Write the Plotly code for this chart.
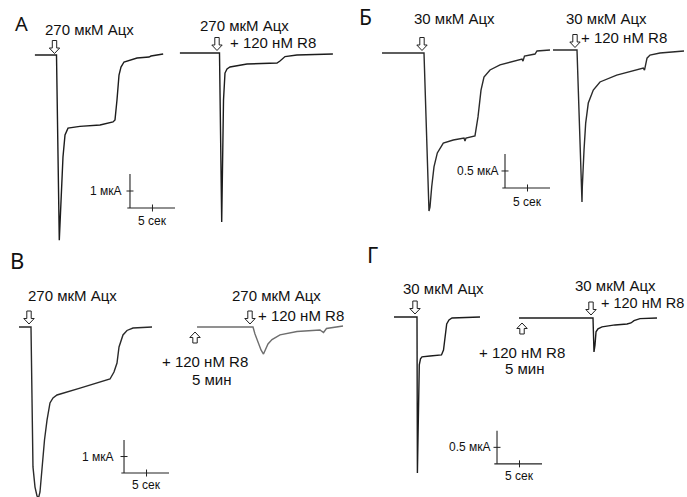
import plotly.graph_objects as go

W, H = 687, 497

# ---------------- data: time (s) from agonist application, current (µA) from baseline -------------
A1_t = [-4.8, 0, 0.62, 0.84, 1.11, 1.44, 1.89, 2.56, 5.2, 9.67, 12.56, 13.0, 13.44, 13.89, 14.33, 15.0, 17.9, 20.56, 21.0, 23.7]
A1_i = [0, 0, -10.9, -9.4, -7.65, -6.0, -4.7, -4.3, -4.2, -4.12, -3.94, -3.82, -2.65, -1.18, -0.71, -0.41, -0.18, -0.12, -0.06, 0.06]

A2_t = [-8.8, 0, 0.49, 0.67, 0.89, 1.22, 1.67, 2.33, 6.11, 12.78, 13.44, 14.56, 17.2, 25.2]
A2_i = [0, 0, -9.94, -7.47, -2.76, -1.18, -0.94, -0.82, -0.65, -0.59, -0.47, -0.21, -0.12, -0.06]

B1_t = [-9.33, 0, 1.11, 1.33, 1.71, 2.22, 2.96, 4.29, 6.51, 8.89, 9.11, 9.33, 11.33, 12.0, 12.67, 13.33,
        14.67, 16.89, 21.78, 22.0, 22.33, 24.67, 25.11, 28.0]
B1_i = [0, 0, -4.65, -4.53, -3.94, -3.35, -2.94, -2.65, -2.56, -2.5, -2.59, -2.5, -2.44, -1.88, -1.09, -0.71,
        -0.5, -0.35, -0.18, -0.24, -0.09, -0.03, 0.06, 0.09]

B2_t = [-5.33, 0, 1.11, 1.18, 1.56, 1.93, 2.51, 3.62, 5.11, 8.82, 14.73, 15.0, 15.56, 16.22, 18.44, 23.78]
B2_i = [0, 0, -4.47, -4.03, -2.94, -2.15, -1.56, -1.18, -0.94, -0.74, -0.53, -0.59, -0.24, -0.15, -0.09, -0.03]

V1_t = [-2.67, 0, 0.44, 0.89, 1.33, 1.67, 2.0, 2.44, 3.0, 3.56, 4.22, 4.89, 5.78, 10.89, 17.56, 18.44, 19.11,
        19.56, 20.0, 20.44, 21.33, 22.67, 26.89]
V1_i = [0, 0, -8.48, -9.7, -10.24, -10.36, -10.0, -8.48, -6.85, -5.64, -4.6, -4.3, -4.12, -3.7, -3.15, -2.73, -2.18,
        -1.21, -0.79, -0.48, -0.21, -0.06, 0]

V2_t = [-12.44, 0, 0.44, 1.11, 1.78, 2.33, 2.78, 3.33, 4.22, 6.0, 9.78, 14.89, 15.33, 15.67, 16.33, 18.22, 20.0]
V2_i = [0, 0, -0.42, -0.97, -1.39, -1.64, -1.39, -1.03, -0.76, -0.48, -0.27, -0.18, -0.27, -0.33, -0.09, 0, 0.06]

G1_t = [-5.11, 0, 0.09, 0.36, 0.51, 0.78, 1.11, 2.89, 5.44, 5.89, 6.22, 6.6, 7.11, 7.78, 14.0]
G1_i = [0, 0, -4.73, -2.52, -1.45, -1.27, -1.21, -1.18, -1.15, -1.0, -0.7, -0.21, -0.09, -0.03, 0]

G2_t = [-16.44, 0, 0.22, 0.44, 0.67, 1.11, 2.0, 4.89, 7.56, 8.44, 9.11, 10.44, 14.22]
G2_i = [0, 0, -1.03, -0.82, -0.42, -0.33, -0.27, -0.21, -0.18, -0.15, -0.08, -0.02, 0]

# scale bars: vertical length (µA) and horizontal length (s)
SCALE_I = {"А": 2.0, "Б": 1.0, "В": 2.0, "Г": 1.0}
SCALE_T = {"А": 10.0, "Б": 10.0, "В": 10.0, "Г": 10.0}
SCALE_LABEL_I = {"А": "1 мкА", "Б": "0.5 мкА", "В": "1 мкА", "Г": "0.5 мкА"}
SCALE_LABEL_T = "5 сек"

LBL_ACH270 = "270 мкМ Ацх"
LBL_ACH30 = "30 мкМ Ацх"
LBL_R8 = "+ 120 нМ R8"
LBL_5MIN = "5 мин"

# ---------------- layout of recordings (pixel anchor of t=0 / baseline, pixel scales) ----------------
SX = 4.5
REC = [
    # key, t, i, xa, yb, sy, colour
    ("A1", A1_t, A1_i, 56.5, 55, 17.0, "#1c1c1c"),
    ("A2", A2_t, A2_i, 219.5, 53, 17.0, "#1c1c1c"),
    ("B1", B1_t, B1_i, 424, 53, 34.0, "#2a2a2a"),
    ("B2", B2_t, B2_i, 577, 50, 34.0, "#2a2a2a"),
    ("V1", V1_t, V1_i, 31, 327, 16.5, "#2a2a2a"),
    ("V2", V2_t, V2_i, 253, 327, 16.5, "#6e6e6e"),
    ("G1", G1_t, G1_i, 417, 317, 33.0, "#1c1c1c"),
    ("G2", G2_t, G2_i, 593, 318, 33.0, "#1c1c1c"),
]
AX = {}
fig = go.Figure()
layout_axes = {}
for k, (key, t, i, xa, yb, sy, col) in enumerate(REC, start=1):
    sfx = "" if k == 1 else str(k)
    AX[key] = ("x" + sfx, "y" + sfx)
    layout_axes["xaxis" + sfx] = dict(domain=[0, 1], range=[(0 - xa) / SX, (W - xa) / SX],
                                      visible=False, fixedrange=True, anchor="y" + sfx)
    layout_axes["yaxis" + sfx] = dict(domain=[0, 1], range=[(yb - H) / sy, yb / sy],
                                      visible=False, fixedrange=True, anchor="x" + sfx)
    fig.add_trace(go.Scatter(x=t, y=i, mode="lines", xaxis="x" + sfx, yaxis="y" + sfx,
                             line=dict(color=col, width=1.4), hoverinfo="skip", showlegend=False))

FONT = "Liberation Sans, Arial, sans-serif"
ann = []
shapes = []


def label(key, text, dx, dy, size=15):
    xr, yr = AX[key]
    ann.append(dict(x=0, y=0, xref=xr, yref=yr, text=text, showarrow=False, xshift=dx, yshift=dy,
                    xanchor="center", yanchor="middle", font=dict(family=FONT, size=size, color="#111")))


def arrow(key, t_anchor, dx, dy, up=False, h=13):
    xr, yr = AX[key]
    s = -1 if up else 1
    hw, hh, sw = 5.2, 5.5, 2.2
    pts = [(dx, dy), (dx - hw, dy + s * hh), (dx - sw, dy + s * hh), (dx - sw, dy + s * h),
           (dx + sw, dy + s * h), (dx + sw, dy + s * hh), (dx + hw, dy + s * hh)]
    path = "M" + " L".join(f"{px:.1f},{py:.1f}" for px, py in pts) + " Z"
    shapes.append(dict(type="path", xref=xr, yref=yr, xsizemode="pixel", ysizemode="pixel",
                       xanchor=t_anchor, yanchor=0, path=path,
                       line=dict(color="#222", width=1), fillcolor="white", layer="above"))


# agonist arrows and labels
arrow("A1", 0, -2, 1.5); label("A1", LBL_ACH270, 32.5, 26)
arrow("A2", 0, -2.5, 2.5); label("A2", LBL_ACH270, 24.5, 28); label("A2", LBL_R8, 53, 11)
arrow("B1", 0, -2, 2.5); label("B1", LBL_ACH30, 30, 35)
arrow("B2", 0, -2, 2.5); label("B2", LBL_ACH30, 29.5, 32); label("B2", LBL_R8, 46.5, 13)
arrow("V1", 0, -2, 3); label("V1", LBL_ACH270, 41, 32)
arrow("V2", 0, -3, 3); label("V2", LBL_ACH270, 23.5, 32); label("V2", LBL_R8, 48, 12)
arrow("V2", V2_t[0], -2, -5, up=True, h=11); label("V2", LBL_R8, -48, -34); label("V2", LBL_5MIN, -41, -52)
arrow("G1", 0, -2, 3); label("G1", LBL_ACH30, 26, 29)
arrow("G2", 0, -2, 3); label("G2", LBL_ACH30, 22, 33); label("G2", LBL_R8, 49, 15, size=14.5)
arrow("G2", G2_t[0], 3, -5, up=True, h=11); label("G2", LBL_R8, -71.5, -34); label("G2", LBL_5MIN, -68.5, -50)

# scale bars (corner position in each panel's first recording, data units)
SB = [("А", "A1", 16.33, -9.0, -6, -13), ("Б", "B1", 18.0, -3.97, -4, -14),
      ("В", "V1", 20.67, -8.85, -8, -12), ("Г", "G1", 17.78, -4.45, -4, -12)]
for p, key, ct, ci, lx, ly in SB:
    xr, yr = AX[key]
    vi, vt = SCALE_I[p], SCALE_T[p]
    fig.add_trace(go.Scatter(x=[ct, ct, None, ct - 0.6, ct + vt], y=[ci + vi, ci, None, ci, ci],
                             mode="lines", xaxis=xr, yaxis=yr, line=dict(color="#222", width=1.1),
                             hoverinfo="skip", showlegend=False))
    fig.add_trace(go.Scatter(x=[ct, ct + vt / 2], y=[ci + vi / 2, ci], mode="markers", xaxis=xr, yaxis=yr,
                             marker=dict(symbol=["line-ew", "line-ns"], size=5,
                                         line=dict(color="#222", width=1)),
                             hoverinfo="skip", showlegend=False))
    ann.append(dict(x=ct, y=ci + vi / 2, xref=xr, yref=yr, text=SCALE_LABEL_I[p], showarrow=False,
                    xshift=lx, xanchor="right", yanchor="middle", font=dict(family=FONT, size=12, color="#111")))
    ann.append(dict(x=ct + vt / 2, y=ci, xref=xr, yref=yr, text=SCALE_LABEL_T, showarrow=False,
                    yshift=ly, xanchor="center", yanchor="middle", font=dict(family=FONT, size=12, color="#111")))

# panel letters
LETTERS = [("А", 21.5, 24, 20), ("Б", 365, 17.5, 21), ("В", 17, 259.5, 22), ("Г", 372, 254, 22)]
for txt, px, py, sz in LETTERS:
    ann.append(dict(x=px / W, y=1 - py / H, xref="paper", yref="paper", text=txt, showarrow=False,
                    xanchor="center", yanchor="middle", font=dict(family="Noto Sans, " + FONT, size=sz, color="#111")))

fig.update_layout(width=W, height=H, autosize=False, margin=dict(l=0, r=0, t=0, b=0, pad=0),
                  paper_bgcolor="white", plot_bgcolor="rgba(0,0,0,0)", showlegend=False,
                  annotations=ann, shapes=shapes, **layout_axes)
fig.write_html("out.html", config={"displayModeBar": False},
               post_script="document.body.style.margin='0';document.body.style.overflow='hidden';")
